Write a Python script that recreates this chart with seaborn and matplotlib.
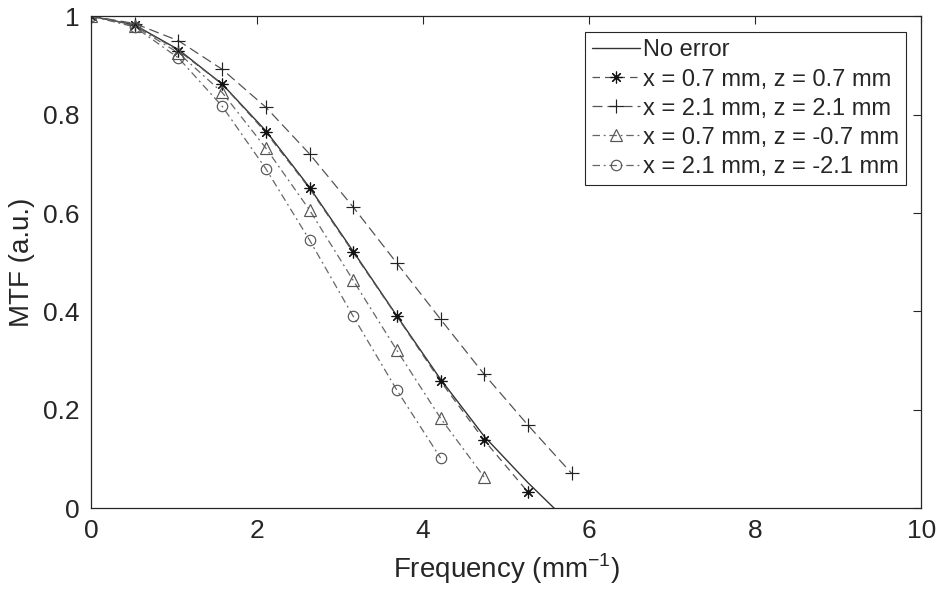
import numpy as np
import pandas as pd
import matplotlib
matplotlib.use("Agg")
import matplotlib.pyplot as plt
import seaborn as sns

sns.set_style("white")
plt.rcParams['font.family'] = ['Liberation Sans', 'DejaVu Sans']
plt.rcParams['mathtext.fontset'] = 'custom'
plt.rcParams['mathtext.rm'] = 'Liberation Sans'

# Data
freq_noerr = [0, 0.526, 1.053, 1.579, 2.105, 2.632, 3.158, 3.684, 4.211, 4.737, 5.263, 5.58]
mtf_noerr = [1.0, 0.982, 0.932, 0.862, 0.767, 0.652, 0.522, 0.391, 0.262, 0.146, 0.052, 0.0]

freq_a = [0, 0.526, 1.053, 1.579, 2.105, 2.632, 3.158, 3.684, 4.211, 4.737, 5.263]
mtf_a = [1.0, 0.982, 0.930, 0.862, 0.764, 0.650, 0.520, 0.390, 0.258, 0.138, 0.033]

freq_b = [0, 0.526, 1.053, 1.579, 2.105, 2.632, 3.158, 3.684, 4.211, 4.737, 5.263, 5.789]
mtf_b = [1.0, 0.985, 0.950, 0.892, 0.815, 0.720, 0.612, 0.498, 0.384, 0.272, 0.169, 0.071]

freq_c = [0, 0.526, 1.053, 1.579, 2.105, 2.632, 3.158, 3.684, 4.211, 4.737]
mtf_c = [1.0, 0.980, 0.925, 0.845, 0.732, 0.606, 0.463, 0.321, 0.183, 0.063]

freq_d = [0, 0.526, 1.053, 1.579, 2.105, 2.632, 3.158, 3.684, 4.211]
mtf_d = [1.0, 0.978, 0.915, 0.817, 0.690, 0.545, 0.390, 0.240, 0.102]

labels = ["No error", "x = 0.7 mm, z = 0.7 mm", "x = 2.1 mm, z = 2.1 mm",
          "x = 0.7 mm, z = -0.7 mm", "x = 2.1 mm, z = -2.1 mm"]

series = [(freq_noerr, mtf_noerr), (freq_a, mtf_a), (freq_b, mtf_b),
          (freq_c, mtf_c), (freq_d, mtf_d)]

styles = [
    dict(color='#333333', linestyle='-', marker=None, lw=1.0),
    dict(color='#555555', linestyle=(0, (6, 4)), marker=(8, 2, 0), lw=0.9, mec='#111111', ms=8.5),
    dict(color='#555555', linestyle=(0, (8, 4)), marker='+', lw=0.9, mec='#222222', ms=10),
    dict(color='#666666', linestyle=(0, (6, 3, 1.5, 3)), marker='^', lw=0.9, mec='#555555', ms=8),
    dict(color='#666666', linestyle=(0, (6, 3, 1.5, 3)), marker='o', lw=0.9, mec='#555555', ms=7.5),
]

fig = plt.figure(figsize=(9.39, 5.98), dpi=100)
ax = fig.add_axes([0.097, 0.150, 0.884, 0.823])

for (fx, fy), lab, st in zip(series, labels, styles):
    df = pd.DataFrame({"Frequency": fx, "MTF": fy})
    kw = dict(data=df, x="Frequency", y="MTF", ax=ax, color=st['color'],
              linewidth=st['lw'], label=lab, sort=False)
    if st['marker'] is not None:
        kw.update(marker=st['marker'], markersize=st['ms'], markerfacecolor='none',
                  markeredgecolor=st['mec'], markeredgewidth=0.85)
    sns.lineplot(**kw)
    ax.lines[-1].set_linestyle(st['linestyle'])

ax.set_xlim(0, 10)
ax.set_ylim(0, 1)
ax.set_xticks([0, 2, 4, 6, 8, 10])
ax.set_xticklabels(["0", "2", "4", "6", "8", "10"])
ax.set_yticks([0, 0.2, 0.4, 0.6, 0.8, 1])
ax.set_yticklabels(["0", "0.2", "0.4", "0.6", "0.8", "1"])
ax.tick_params(direction='in', top=True, right=True, length=6, width=0.8,
               labelsize=19, colors='#262626', pad=8)
for s in ax.spines.values():
    s.set_color('#262626')
    s.set_linewidth(0.9)
ax.set_xlabel("Frequency (mm$^{\\mathregular{-1}}$)", fontsize=20, color='#262626', labelpad=6)
ax.set_ylabel("MTF (a.u.)", fontsize=20, color='#262626', labelpad=6)

leg = ax.legend(loc='upper right', bbox_to_anchor=(0.982, 0.967), fontsize=17,
                frameon=True, fancybox=False, edgecolor='#262626', framealpha=1,
                handlelength=2.0, handletextpad=0.15, borderpad=0.3, labelspacing=0.3,
                borderaxespad=0.0)
leg.get_frame().set_linewidth(0.8)

fig.savefig("out.png", dpi=100, facecolor='white')
